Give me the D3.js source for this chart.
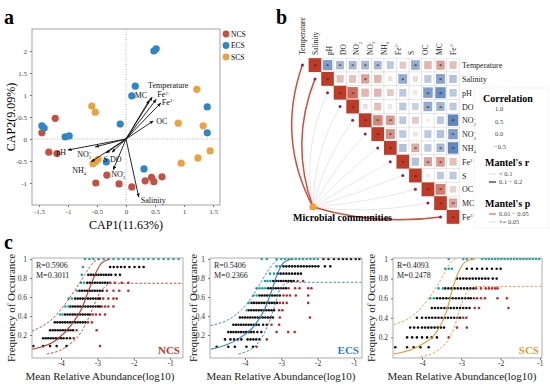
<!DOCTYPE html>
<html><head><meta charset="utf-8">
<script src="https://cdn.jsdelivr.net/npm/d3@7"></script>
<style>
body{margin:0;background:#fff}
svg{display:block}
text{font-family:"Liberation Serif","Times New Roman",serif}
</style>
</head><body>
<svg id="fig" width="550" height="384"></svg>
<script>
// ---------- panel a: CAP ordination ----------
var groups = ["NCS", "ECS", "SCS"];
var groupColors = ["#c6503f", "#2e86c8", "#eba23f"];

var ncsX = [-1.45, -1.22, -1.33, -1.19, -0.52, -0.33, -0.12, 0.1, 0.33, 0.44, 0.48, 0.62];
var ncsY = [0.14, 0.47, -0.3, -0.33, -1.0, -0.82, -1.02, -1.09, -0.95, -0.87, -0.97, -0.86];
var ecsX = [0.48, 0.52, 0.16, 0.1, -0.1, 1.4, 1.4, -1.45, -1.41, -1.05, -0.98, -0.34, 0.31];
var ecsY = [2.0, 2.05, 1.2, 0.98, 0.34, 0.73, 0.14, 0.3, 0.25, 0.05, 0.07, -0.52, -0.68];
var scsX = [-0.59, -0.53, -0.53, -0.48, -0.57, 1.22, 0.9, 1.33, 1.45, 1.24, 0.95];
var scsY = [0.75, 0.61, -0.52, -0.46, -0.56, 1.13, 0.36, 0.3, -0.27, -0.43, -0.55];

var arrowNames = ["Temperature", "MC", "Fe2+", "Fe3+", "OC", "pH", "NO2-", "NH4+", "S", "DO", "NO3-", "Salinity"];
var arrowX = [0.45, 0.4, 0.52, 0.6, 0.47, -1.0, -0.53, -0.6, -0.34, -0.24, -0.22, 0.22];
var arrowY = [0.95, 0.88, 0.9, 0.82, 0.41, -0.25, -0.18, -0.52, -0.32, -0.3, -0.7, -1.32];

var capTicksX = [-1.5, -1, -0.5, 0, 0.5, 1, 1.5];
var capTicksY = [-1, -0.5, 0, 0.5, 1, 1.5, 2];

// ---------- panel b: correlation + mantel ----------
var envVars = ["Temperature", "Salinity", "pH", "DO", "NO2-", "NO3-", "NH4+", "Fe2+", "S", "OC", "MC", "Fe3+"];
// upper triangle, each row starts at its diagonal
var corrRows = [
    [1, -0.6, -0.4, -0.4, -0.4, -0.4, -0.3, 0.25, -0.5, 0.35, 0.45, 0.3],
    [1, 0.3, 0.3, 0.45, 0.35, 0.1, -0.5, 0.15, -0.3, -0.55, -0.35],
    [1, 0.75, 0.35, 0.35, 0.25, -0.3, 0.08, -0.6, -0.7, -0.3],
    [1, 0.12, 0.3, 0.08, -0.3, -0.25, -0.5, -0.45, -0.3],
    [1, 0.6, 0.5, -0.3, 0.25, 0.05, -0.3, -0.75],
    [1, 0.55, -0.3, 0.1, -0.3, -0.35, -0.6],
    [1, -0.35, 0.4, -0.3, -0.4, -0.75],
    [1, -0.35, 0.45, 0.5, 0.3],
    [1, 0.05, -0.3, -0.3],
    [1, 0.65, 0.2],
    [1, 0.45],
    [1]
];
var mantelR = [0.15, 0.14, 0.05, 0.04, 0.06, 0.05, 0.06, 0.07, 0.05, 0.06, 0.07, 0.13];
var mantelP = [0.02, 0.03, 0.4, 0.5, 0.3, 0.35, 0.3, 0.25, 0.5, 0.3, 0.2, 0.04];
var corrLegend = [1.0, 0.5, 0.0, -0.5];

// ---------- panel c: neutral community model ----------
// rows: [k, [x values]] with frequency = k / n
var ncsCyan = [[12, [-3.34, -3.22, -3.11, -2.97, -2.83, -2.7, -2.56, -2.42, -2.28, -2.15, -2.01, -1.87, -1.73, -1.6, -1.46, -1.32, -1.18, -1.05, -0.91, -0.77]],
    [11, [-3.4]], [10, [-3.43]], [9, [-3.45, -3.37]], [8, [-3.56]], [7, [-3.79, -3.7]], [6, [-3.88, -3.79]], [5, [-4.03, -3.96]]];
var ncsBlack = [[11, [-2.65, -2.55, -2.45, -2.35, -2.25, -2.12, -1.98, -1.85, -1.73]],
    [10, [-3.25, -3.18, -3.11, -3.04, -2.97, -2.9, -2.83, -2.76, -2.69, -2.62, -2.5, -2.38]],
    [9, [-3.28, -3.21, -3.14, -3.07, -3.0, -2.93, -2.86, -2.79, -2.72]],
    [8, [-3.49, -3.42, -3.35, -3.28, -3.21, -3.14, -3.07, -3.0, -2.93, -2.86]],
    [7, [-3.61, -3.54, -3.47, -3.4, -3.33, -3.26, -3.19, -3.12, -3.05, -2.98, -2.93]],
    [6, [-3.75, -3.68, -3.61, -3.54, -3.47, -3.4, -3.33, -3.26, -3.19, -3.12, -3.05, -2.98, -2.93]],
    [5, [-3.89, -3.82, -3.75, -3.68, -3.61, -3.54, -3.47, -3.4, -3.33, -3.26, -3.2]],
    [4, [-4.17, -4.1, -4.03, -3.96, -3.89, -3.82, -3.75, -3.68, -3.61, -3.54, -3.47, -3.4, -3.33]],
    [3, [-4.3, -4.23, -4.16, -4.09, -4.02, -3.95, -3.88, -3.81, -3.74, -3.67]],
    [2, [-4.49, -4.42, -4.35, -4.28, -4.21, -4.14, -4.07, -4.0, -3.93, -3.84, -3.75]],
    [1, [-4.76, -4.49, -4.3, -4.12, -3.85]]];
var ncsRed = [[9, [-2.65, -2.52, -2.33, -2.15]], [8, [-2.74, -2.56, -2.4, -2.15]], [7, [-2.84, -2.7, -2.56, -2.47]],
    [6, [-2.88, -2.79, -2.7, -2.56]], [5, [-3.13, -3.04, -2.93, -2.79]], [4, [-3.26, -3.15]], [3, [-3.57, -3.02]],
    [2, [-3.65]], [1, [-2.93]]];
var ncsFit = [[-4.8, 0.05], [-4.67, 0.06], [-4.12, 0.15], [-3.71, 0.31], [-3.43, 0.48], [-3.25, 0.66], [-3.06, 0.84], [-2.88, 0.96], [-2.65, 1.0]];
var ncsUpper = [[-4.8, 0.24], [-4.21, 0.38], [-3.84, 0.55], [-3.52, 0.73], [-3.29, 0.87], [-3.06, 0.98], [-2.93, 1.0]];
var ncsLower = [[-4.39, 0.0], [-3.84, 0.08], [-3.43, 0.24], [-3.16, 0.45], [-2.97, 0.62], [-2.79, 0.71], [-2.61, 0.745], [-0.65, 0.745]];

var ecsCyan = [[13, [-3.54, -3.4, -3.13, -3.0, -2.9, -2.8, -2.7, -2.6, -2.5, -2.4, -2.3, -2.2, -2.1, -2.0]],
    [12, [-3.13, -3.04]], [11, [-3.31, -3.2]], [10, [-3.45, -3.38, -3.3]], [9, [-3.68, -3.6, -3.52, -3.44]],
    [8, [-3.77, -3.68]], [7, [-3.9]], [6, [-3.95]]];
var ecsBlack = [[13, [-1.84, -1.7, -1.55, -1.42, -1.3, -1.2, -1.08, -0.95, -0.85]],
    [12, [-2.94, -2.86, -2.78, -2.7, -2.62, -2.54, -2.46, -2.38, -2.3, -2.22, -2.14, -2.06, -1.98, -1.8, -1.65]],
    [11, [-3.1, -3.02, -2.94, -2.86, -2.78, -2.7, -2.62, -2.54, -2.46]],
    [10, [-3.22, -3.15, -3.08, -3.01, -2.94, -2.87, -2.8, -2.73, -2.66]],
    [9, [-3.36, -3.29, -3.22, -3.15, -3.08, -3.01, -2.94, -2.87]],
    [8, [-3.6, -3.53, -3.46, -3.39, -3.32, -3.25, -3.18, -3.11, -3.04]],
    [7, [-3.82, -3.75, -3.68, -3.61, -3.54, -3.47, -3.4, -3.33, -3.26, -3.19, -3.12]],
    [6, [-3.9, -3.83, -3.76, -3.69, -3.62, -3.55, -3.48, -3.41, -3.34, -3.27, -3.2]],
    [5, [-4.14, -4.07, -4.0, -3.93, -3.86, -3.79, -3.72, -3.65, -3.58, -3.51, -3.44, -3.37, -3.3, -3.23]],
    [4, [-4.32, -4.25, -4.18, -4.11, -4.04, -3.97, -3.9, -3.83, -3.76, -3.69, -3.62, -3.5, -3.4]],
    [3, [-4.46, -4.39, -4.32, -4.25, -4.18, -4.11, -4.04, -3.97, -3.9, -3.83, -3.76, -3.66, -3.55]],
    [2, [-4.55, -4.4, -4.3, -4.2, -4.1, -3.93, -3.85, -3.77, -3.69, -3.6]],
    [1, [-4.78, -4.46, -4.28, -3.96, -3.78]]];
var ecsRed = [[10, [-2.55, -2.4]], [9, [-2.8, -2.62, -2.5, -2.26, -2.17]], [8, [-2.94, -2.85, -2.76, -2.6, -2.26]],
    [7, [-3.04, -2.95, -2.85, -2.26]], [6, [-3.06, -2.97]], [5, [-3.04, -2.21]], [4, [-3.27, -3.06]],
    [3, [-3.13, -2.81, -2.63]], [2, [-3.4]], [1, [-3.68]]];
var ecsFit = [[-4.95, 0.05], [-4.83, 0.06], [-4.14, 0.17], [-3.72, 0.31], [-3.45, 0.48], [-3.27, 0.66], [-3.11, 0.84], [-2.94, 0.96], [-2.72, 1.0]];
var ecsUpper = [[-4.95, 0.3], [-4.3, 0.4], [-3.9, 0.55], [-3.6, 0.73], [-3.38, 0.87], [-3.18, 0.97], [-3.05, 1.0]];
var ecsLower = [[-4.18, 0.0], [-3.68, 0.1], [-3.36, 0.31], [-3.17, 0.52], [-3.04, 0.68], [-2.9, 0.74], [-2.75, 0.755], [-0.79, 0.755]];

var scsCyan = [[10, [-3.32, -2.95, -2.86, -2.73, -2.47, -2.38, -2.3, -2.22, -2.14, -2.06, -1.98, -1.9, -1.82, -1.74, -1.66, -1.58, -1.5, -1.42, -1.34, -1.26, -1.18, -1.1, -1.02]],
    [9, [-3.41, -3.32, -3.24]], [7, [-3.58, -3.47]], [6, [-3.79, -3.7]]];
var scsBlack = [[9, [-2.86, -2.73, -2.6, -2.47, -2.35, -2.22, -2.1, -2.0]],
    [8, [-3.11, -3.03, -2.95, -2.87, -2.79, -2.71, -2.63, -2.55, -2.47, -2.39, -2.31, -2.2, -2.1]],
    [7, [-3.41, -3.33, -3.25, -3.17, -3.09, -3.01, -2.93, -2.85, -2.77, -2.69]],
    [6, [-3.62, -3.54, -3.46, -3.38, -3.3, -3.22, -3.14, -3.06, -2.98, -2.9, -2.82, -2.76]],
    [5, [-3.75, -3.67, -3.59, -3.51, -3.43, -3.35, -3.27, -3.19, -3.11, -3.03, -2.95, -2.87, -2.79]],
    [4, [-4.13, -4.0, -3.9, -3.82, -3.74, -3.66, -3.58, -3.5, -3.42, -3.34, -3.26, -3.18, -3.1, -3.03]],
    [3, [-4.3, -4.2, -4.1, -4.0, -3.92, -3.84, -3.76, -3.68, -3.6, -3.52, -3.44]],
    [2, [-4.38, -4.25, -4.13, -4.0, -3.87, -3.75, -3.62]],
    [1, [-4.68, -4.38, -4.21, -4.04, -3.83]]];
var scsRed = [[7, [-2.62, -2.5, -2.38, -2.3, -2.22, -2.14, -2.08]], [6, [-2.68, -2.6, -2.5, -2.4, -2.08, -1.84]],
    [5, [-2.66, -2.55, -1.8]], [4, [-2.95, -2.87]], [3, [-3.11, -2.86]], [2, [-3.32]]];
var scsFit = [[-4.72, 0.03], [-4.04, 0.12], [-3.62, 0.26], [-3.38, 0.46], [-3.24, 0.67], [-3.07, 0.87], [-2.86, 0.98], [-2.64, 1.0]];
var scsUpper = [[-4.72, 0.33], [-4.21, 0.43], [-3.79, 0.62], [-3.49, 0.81], [-3.28, 0.96], [-3.15, 1.0]];
var scsLower = [[-4.04, 0.0], [-3.53, 0.09], [-3.19, 0.29], [-3.03, 0.5], [-2.9, 0.63], [-2.73, 0.71], [-2.6, 0.72], [-0.95, 0.72]];

var occTicksX = [-4, -3, -2, -1];
var occTicksY = [0.2, 0.4, 0.6, 0.8, 1];

var svg = d3.select("#fig");
svg.append("rect").attr("width", 550).attr("height", 384).attr("fill", "#fff");

// chemical names with sub/superscripts
var chemParts = {
    "NO2-": [["NO", 0], ["2", 1], ["\u2212", -1]],
    "NO3-": [["NO", 0], ["3", 1], ["\u2212", -1]],
    "NH4+": [["NH", 0], ["4", 1], ["+", -1]],
    "Fe2+": [["Fe", 0], ["2+", -1]],
    "Fe3+": [["Fe", 0], ["3+", -1]]
};

function chem(textSel, name, fs) {
    var parts = chemParts[name];
    if (!parts) {
        textSel.text(name);
        return;
    }
    var cur = 0;
    var prevScript = false;
    parts.forEach(function (p) {
        var target = p[1] === 1 ? fs * 0.3 : (p[1] === -1 ? -fs * 0.35 : 0);
        var t = textSel.append("tspan").text(p[0]).attr("dy", target - cur);
        if (p[1] !== 0) t.attr("font-size", fs * 0.6);
        if (p[1] === -1 && prevScript) t.attr("dx", -fs * 0.33);
        prevScript = p[1] === 1;
        cur = target;
    });
}

// ================= panel a =================
function drawPanelA() {
    var x = d3.scaleLinear().domain([-1.62, 1.62]).range([32, 220]);
    var y = d3.scaleLinear().domain([-1.5, 2.5]).range([205, 29]);
    var g = svg.append("g");

    g.append("text").attr("x", 4).attr("y", 24).attr("font-size", 20).attr("font-weight", "bold").text("a");

    g.append("line").attr("x1", x(0)).attr("x2", x(0)).attr("y1", 29).attr("y2", 205)
        .attr("stroke", "#9a9a9a").attr("stroke-width", 0.7).attr("stroke-dasharray", "1,1.5");
    g.append("line").attr("x1", 32).attr("x2", 220).attr("y1", y(0)).attr("y2", y(0))
        .attr("stroke", "#9a9a9a").attr("stroke-width", 0.7).attr("stroke-dasharray", "1,1.5");

    var xAxis = g.append("g").attr("transform", "translate(0,205)")
        .call(d3.axisBottom(x).tickValues(capTicksX).tickSize(2).tickPadding(2)
            .tickFormat(function (d) { return String(d); }));
    var yAxis = g.append("g").attr("transform", "translate(32,0)")
        .call(d3.axisLeft(y).tickValues(capTicksY).tickSize(2).tickFormat(function (d) { return String(d); }));
    [xAxis, yAxis].forEach(function (a) {
        a.select(".domain").remove();
        a.selectAll("line").attr("stroke", "#777");
        a.selectAll("text").attr("font-size", 7).attr("fill", "#444")
            .attr("font-family", "Liberation Serif, serif");
    });

    g.append("rect").attr("x", 32).attr("y", 29).attr("width", 188).attr("height", 176)
        .attr("fill", "none").attr("stroke", "#8a8a8a").attr("stroke-width", 0.8);

    var sets = [[ncsX, ncsY], [ecsX, ecsY], [scsX, scsY]];
    sets.forEach(function (s, gi) {
        g.selectAll(null).data(s[0]).enter().append("circle")
            .attr("cx", function (d) { return x(d); })
            .attr("cy", function (d, i) { return y(s[1][i]); })
            .attr("r", 3.6).attr("fill", groupColors[gi]);
    });

    var defs = svg.append("defs");
    defs.append("marker").attr("id", "ah").attr("viewBox", "0 0 10 10")
        .attr("refX", 9).attr("refY", 5).attr("markerWidth", 4.5).attr("markerHeight", 4.5)
        .attr("orient", "auto")
        .append("path").attr("d", "M0,1 L10,5 L0,9 Z").attr("fill", "#111");

    g.selectAll(null).data(arrowNames).enter().append("line")
        .attr("x1", x(0)).attr("y1", y(0))
        .attr("x2", function (d, i) { return x(arrowX[i]); })
        .attr("y2", function (d, i) { return y(arrowY[i]); })
        .attr("stroke", "#111").attr("stroke-width", 0.9).attr("marker-end", "url(#ah)");

    var labelOffset = {
        "Temperature": [-4, -9, "start"], "MC": [-2, -2, "end"], "Fe2+": [1, -2, "start"],
        "Fe3+": [1, 2, "start"], "OC": [3, 3, "start"], "pH": [-2, 5, "end"],
        "NO2-": [-4, 10, "end"], "NH4+": [-5, 11, "end"], "S": [-3, 9, "start"],
        "DO": [-2, 10, "start"], "NO3-": [-2, 7, "start"], "Salinity": [2, 6, "start"]
    };
    arrowNames.forEach(function (n, i) {
        var o = labelOffset[n];
        var t = g.append("text").attr("x", x(arrowX[i]) + o[0]).attr("y", y(arrowY[i]) + o[1])
            .attr("font-size", 8).attr("text-anchor", o[2]).attr("fill", "#111");
        chem(t, n, 8);
    });

    g.append("text").attr("x", 126).attr("y", 229).attr("text-anchor", "middle")
        .attr("font-size", 12).text("CAP1(11.63%)");
    g.append("text").attr("transform", "translate(15,117) rotate(-90)").attr("text-anchor", "middle")
        .attr("font-size", 12).text("CAP2(9.09%)");

    groups.forEach(function (n, i) {
        g.append("circle").attr("cx", 226).attr("cy", 34 + i * 11.5).attr("r", 3.4).attr("fill", groupColors[i]);
        g.append("text").attr("x", 231).attr("y", 34 + i * 11.5 + 2.6).attr("font-size", 7.5).text(n);
    });
}

// ================= panel b =================
function drawPanelB() {
    var g = svg.append("g");
    g.append("text").attr("x", 276).attr("y", 24).attr("font-size", 20).attr("font-weight", "bold").text("b");

    var n = envVars.length;
    var xb = d3.scaleBand().domain(d3.range(n)).range([308.7, 459.3]);
    var yb = d3.scaleBand().domain(d3.range(n)).range([58.2, 223.8]);
    var lab = d3.scalePoint().domain(d3.range(n)).range([302, 453]);
    var cw = xb.bandwidth(), ch = yb.bandwidth();
    var color = d3.scaleLinear().domain([-1, 0, 1]).range(["#2f62ad", "#f7f7f7", "#c03a28"]);

    var cells = [];
    corrRows.forEach(function (row, i) {
        row.forEach(function (v, k) {
            cells.push({ r: i, c: i + k, v: v });
        });
    });

    // mantel links
    var src = [313, 207];
    var links = envVars.map(function (name, i) {
        var tx = xb(i) + cw / 2 - cw;
        var ty = yb(i) + ch / 2;
        return { i: i, tx: tx, ty: ty, r: mantelR[i], p: mantelP[i] };
    });
    links.sort(function (a, b) { return (a.p < 0.05) - (b.p < 0.05); });
    g.selectAll(null).data(links).enter().append("path")
        .attr("d", function (d) {
            var dx = d.tx - src[0], dy = d.ty - src[1];
            var k = -0.22 + d.i * 0.03;
            var cx = src[0] + dx / 2 - dy * k;
            var cy = src[1] + dy / 2 + dx * k;
            return "M" + src[0] + "," + src[1] + " Q" + cx + "," + cy + " " + d.tx + "," + d.ty;
        })
        .attr("fill", "none")
        .attr("stroke", function (d) { return d.p < 0.05 ? "#cf4f3a" : "#d9d9d9"; })
        .attr("stroke-width", function (d) { return d.r >= 0.1 ? 1.5 : 0.6; });

    g.selectAll(null).data(links).enter().append("circle")
        .attr("cx", function (d) { return d.tx; }).attr("cy", function (d) { return d.ty; })
        .attr("r", 1.5).attr("fill", "#8e1c6a");

    // grid cells
    g.selectAll(null).data(cells).enter().append("rect")
        .attr("x", function (d) { return xb(d.c); }).attr("y", function (d) { return yb(d.r); })
        .attr("width", cw).attr("height", ch)
        .attr("fill", "#fff").attr("stroke", "#dcdcdc").attr("stroke-width", 0.6);
    g.selectAll(null).data(cells).enter().append("rect")
        .each(function (d) {
            var s = d.r === d.c ? 1 : 0.92 * Math.sqrt(Math.abs(d.v));
            d3.select(this)
                .attr("x", xb(d.c) + cw * (1 - s) / 2).attr("y", yb(d.r) + ch * (1 - s) / 2)
                .attr("width", cw * s).attr("height", ch * s);
        })
        .attr("fill", function (d) { return color(d.v); })
        .attr("stroke", function (d) { return d.r === d.c ? "none" : d3.color(color(d.v)).darker(0.3); })
        .attr("stroke-width", 0.4);
    g.selectAll(null).data(cells.filter(function (d) { return Math.abs(d.v) >= 0.4; })).enter().append("text")
        .attr("x", function (d) { return xb(d.c) + cw / 2; })
        .attr("y", function (d) { return yb(d.r) + ch / 2 + 3; })
        .attr("text-anchor", "middle").attr("font-size", 7).attr("fill", "#3a1a1a").text("*");

    // labels
    envVars.forEach(function (name, i) {
        var t = g.append("text").attr("x", 462).attr("y", yb(i) + ch / 2 + 3)
            .attr("font-size", 8).attr("fill", "#222");
        chem(t, name, 8);
        var c = g.append("text").attr("transform", "translate(" + (lab(i) + 2.5) + ",55) rotate(-90)")
            .attr("font-size", 7.5).attr("fill", "#222");
        chem(c, name, 7.5);
    });

    g.append("circle").attr("cx", src[0]).attr("cy", src[1]).attr("r", 3.6).attr("fill", "#f2a231");
    g.append("text").attr("x", 293).attr("y", 221).attr("font-size", 10).attr("font-weight", "bold")
        .text("Microbial communities");

    // legend
    g.append("rect").attr("x", 474).attr("y", 88).attr("width", 74).attr("height", 140)
        .attr("fill", "none").attr("stroke", "#ececec").attr("stroke-width", 0.6);
    g.append("text").attr("x", 483).attr("y", 102).attr("font-size", 10).attr("font-weight", "bold").text("Correlation");
    corrLegend.forEach(function (v, i) {
        g.append("text").attr("x", 495).attr("y", 111 + i * 12.5).attr("font-size", 6.5).attr("fill", "#444")
            .attr("text-anchor", v < 0 ? "middle" : "start")
            .attr("dx", v < 0 ? 5 : 0)
            .text(v < 0 ? "\u2212" + Math.abs(v).toFixed(1) : v.toFixed(1));
    });
    g.append("text").attr("x", 485).attr("y", 166).attr("font-size", 10).attr("font-weight", "bold").text("Mantel's r");
    [["< 0.1", 0.6, "#cfcfcf"], ["0.1 \u2212 0.2", 1.5, "#555"]].forEach(function (it, i) {
        var yy = 174 + i * 8;
        g.append("line").attr("x1", 489).attr("x2", 496).attr("y1", yy).attr("y2", yy)
            .attr("stroke", it[2]).attr("stroke-width", it[1]);
        g.append("text").attr("x", 499).attr("y", yy + 2.3).attr("font-size", 6.5).attr("fill", "#444").text(it[0]);
    });
    g.append("text").attr("x", 485).attr("y", 207).attr("font-size", 10).attr("font-weight", "bold").text("Mantel's p");
    [["0.01 \u2212 0.05", "#cf4f3a"], [">= 0.05", "#d9d9d9"]].forEach(function (it, i) {
        var yy = 214 + i * 8;
        g.append("line").attr("x1", 489).attr("x2", 496).attr("y1", yy).attr("y2", yy)
            .attr("stroke", it[1]).attr("stroke-width", 1);
        g.append("text").attr("x", 499).attr("y", yy + 2.3).attr("font-size", 6.5).attr("fill", "#444").text(it[0]);
    });
}

// ================= panel c =================
function drawOcc(cfg) {
    var g = svg.append("g");
    var x = d3.scaleLinear().domain(cfg.xd).range([cfg.left, cfg.right]);
    var y = d3.scaleLinear().domain(cfg.yd).range([358, 258]);
    var clipId = "clip" + cfg.name;
    svg.select("defs").append("clipPath").attr("id", clipId).append("rect")
        .attr("x", cfg.left).attr("y", 258).attr("width", cfg.right - cfg.left).attr("height", 100);

    var plot = g.append("g").attr("clip-path", "url(#" + clipId + ")");
    function dots(rows, col) {
        var pts = [];
        rows.forEach(function (r) {
            r[1].forEach(function (v) { pts.push([v, r[0] / cfg.n]); });
        });
        plot.selectAll(null).data(pts).enter().append("circle")
            .attr("cx", function (d) { return x(d[0]); }).attr("cy", function (d) { return y(d[1]); })
            .attr("r", 1.3).attr("fill", col);
    }
    dots(cfg.black, "#111");
    dots(cfg.cyan, "#1aa3a8");
    dots(cfg.red, "#b8282a");

    var line = d3.line().x(function (d) { return x(d[0]); }).y(function (d) { return y(d[1]); })
        .curve(d3.curveMonotoneX);
    plot.append("path").attr("d", line(cfg.fit)).attr("fill", "none").attr("stroke", cfg.color).attr("stroke-width", 1.1);
    [cfg.upper, cfg.lower].forEach(function (c) {
        plot.append("path").attr("d", line(c)).attr("fill", "none").attr("stroke", cfg.color)
            .attr("stroke-width", 0.9).attr("stroke-dasharray", "2.5,1.8");
    });

    g.append("rect").attr("x", cfg.left).attr("y", 258).attr("width", cfg.right - cfg.left).attr("height", 100)
        .attr("fill", "none").attr("stroke", "#9a9a9a").attr("stroke-width", 0.8);

    var xa = g.append("g").attr("transform", "translate(0,358)")
        .call(d3.axisBottom(x).tickValues(occTicksX).tickSize(2).tickPadding(1)
            .tickFormat(function (d) { return String(d); }));
    var ya = g.append("g").attr("transform", "translate(" + cfg.left + ",0)")
        .call(d3.axisLeft(y).tickValues(occTicksY).tickSize(2)
            .tickFormat(function (d) { return d === 1 ? "1" : d.toFixed(1); }));
    [xa, ya].forEach(function (a) {
        a.select(".domain").remove();
        a.selectAll("line").attr("stroke", "#777");
        a.selectAll("text").attr("font-size", 7.5).attr("fill", "#333")
            .attr("font-family", "Liberation Serif, serif");
    });

    g.append("text").attr("x", cfg.left + 4).attr("y", 268).attr("font-size", 8).attr("fill", "#222").text("R=" + cfg.R);
    g.append("text").attr("x", cfg.left + 4).attr("y", 278).attr("font-size", 8).attr("fill", "#222").text("M=" + cfg.M);
    g.append("text").attr("x", cfg.right - 3).attr("y", 354).attr("text-anchor", "end")
        .attr("font-size", 11).attr("font-weight", "bold").attr("fill", cfg.color).text(cfg.name);

    g.append("text").attr("x", cfg.titleX).attr("y", 379.5).attr("text-anchor", "middle")
        .attr("font-size", 11).attr("fill", "#222").text("Mean Relative Abundance(log10)");
    g.append("text").attr("transform", "translate(" + cfg.yTitleX + ",308) rotate(-90)")
        .attr("text-anchor", "middle").attr("font-size", 11).attr("fill", "#222").text("Frequency of Occurance");
}

drawPanelA();
drawPanelB();
svg.append("text").attr("x", 4).attr("y", 249).attr("font-size", 20).attr("font-weight", "bold").text("c");

drawOcc({ name: "NCS", color: "#c0392b", left: 32, right: 183, xd: [-4.797, -0.648], yd: [-0.042, 1.011], n: 12,
    cyan: ncsCyan, black: ncsBlack, red: ncsRed, fit: ncsFit, upper: ncsUpper, lower: ncsLower,
    R: "0.5906", M: "0.3011", titleX: 100, yTitleX: 15 });
drawOcc({ name: "ECS", color: "#2e7fbf", left: 210, right: 362, xd: [-4.964, -0.777], yd: [-0.042, 1.011], n: 13,
    cyan: ecsCyan, black: ecsBlack, red: ecsRed, fit: ecsFit, upper: ecsUpper, lower: ecsLower,
    R: "0.5406", M: "0.2366", titleX: 281, yTitleX: 197 });
drawOcc({ name: "SCS", color: "#e59a35", left: 393, right: 542, xd: [-4.738, -0.947], yd: [-0.01, 1.01], n: 10,
    cyan: scsCyan, black: scsBlack, red: scsRed, fit: scsFit, upper: scsUpper, lower: scsLower,
    R: "0.4093", M: "0.2478", titleX: 462, yTitleX: 375 });
</script>
</body></html>
